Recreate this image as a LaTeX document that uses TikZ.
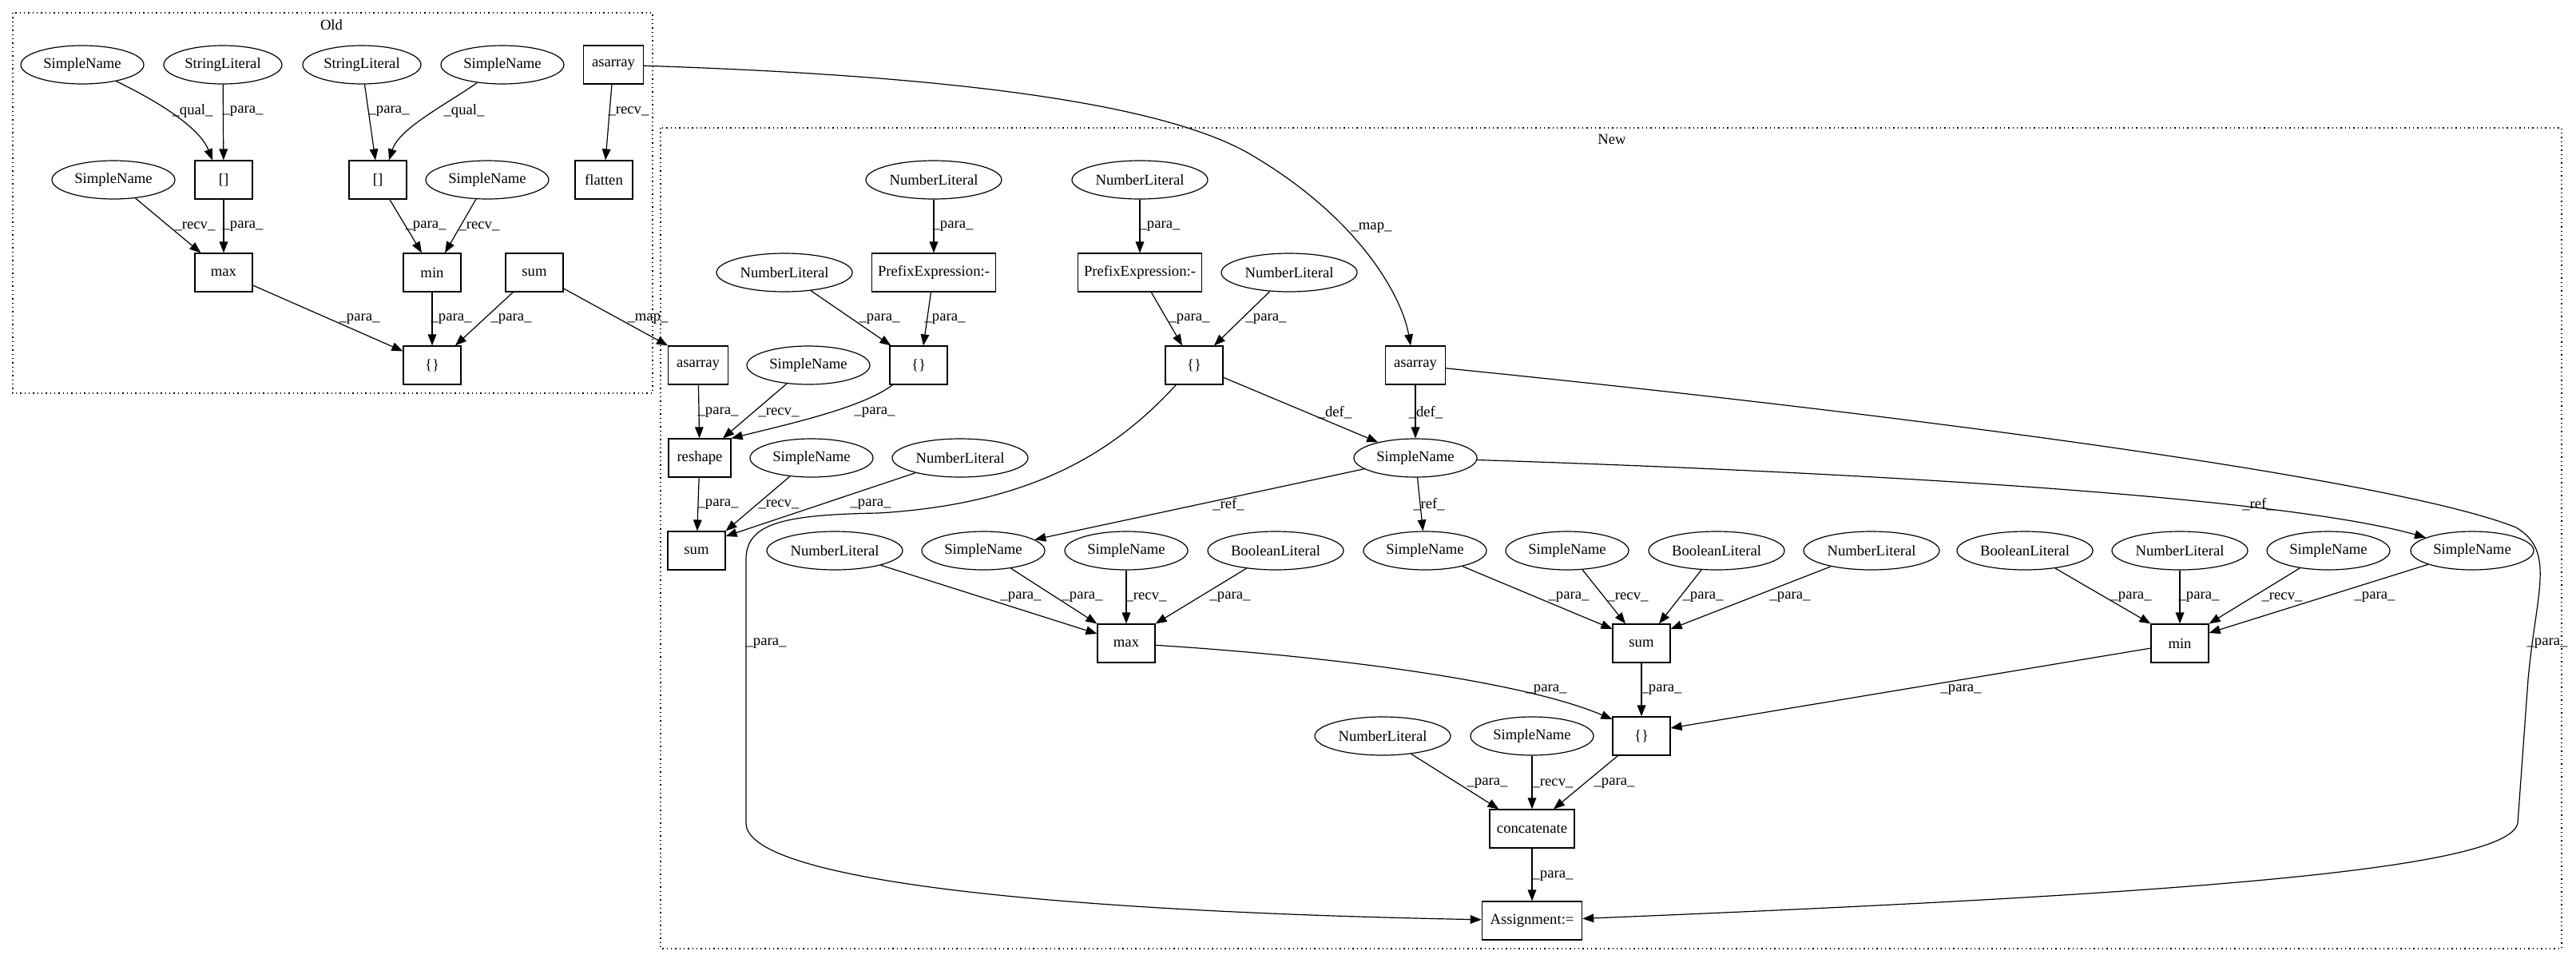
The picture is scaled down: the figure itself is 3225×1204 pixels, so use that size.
\documentclass[tikz,border=0pt]{standalone}
\usepackage{fontspec}
\setmainfont{Liberation Serif}
\usetikzlibrary{arrows.meta,shapes.geometric,calc}
\begin{document}
\begin{tikzpicture}[x=0.75pt,y=-0.75pt,
  font=\fontsize{14pt}{16pt}\selectfont,
  box/.style={draw,line width=0.9pt,rectangle,minimum width=54pt,minimum height=36pt,inner sep=0pt},
  ell/.style={draw,line width=0.9pt,ellipse,minimum height=36pt,inner sep=0pt},
  sn/.style={ell,minimum width=115.5pt},
  nl/.style={ell,minimum width=127.5pt},
  e/.style={draw,line width=0.9pt,-{Triangle[length=10.5pt,width=8pt]}},
  lb/.style={inner sep=0pt,anchor=center},
  clus/.style={draw,line width=0.9pt,dash pattern=on 1pt off 3pt}]
\useasboundingbox (0,0) rectangle (3225,1204);

% clusters
\draw[clus] (16,16) rectangle (817,492);
\node[lb] (oldlbl) at (415,31) {Old};
\draw[clus] (827,160) rectangle (3207,1187);
\node[lb] (newlbl) at (2018,174) {New};

% Old nodes
\node[sn] (osn1) at (103,81) {SimpleName};
\node[ell,minimum width=111pt] (osl1) at (279,81) {StringLiteral};
\node[ell,minimum width=111pt] (osl2) at (453,81) {StringLiteral};
\node[sn] (osn2) at (629,81) {SimpleName};
\node[box,minimum width=56pt] (oasarray) at (768,81) {asarray};
\node[sn] (osn3) at (142,225) {SimpleName};
\node[box] (obr1) at (280,225) {[]};
\node[box] (obr2) at (473,225) {[]};
\node[sn] (osn4) at (610,225) {SimpleName};
\node[box] (oflatten) at (756,225) {flatten};
\node[box] (omax) at (280,341) {max};
\node[box] (omin) at (541,341) {min};
\node[box] (osum) at (669,341) {sum};
\node[box] (obrace) at (541,457) {\{\}};

% New nodes
\node[nl] (nnl1) at (1169,225) {NumberLiteral};
\node[nl] (nnl2) at (1427,225) {NumberLiteral};
\node[box,minimum width=116pt] (npre1) at (1169,341) {PrefixExpression:-};
\node[box,minimum width=116pt] (npre2) at (1427,341) {PrefixExpression:-};
\node[nl] (nnl3) at (982,341) {NumberLiteral};
\node[nl] (nnl4) at (1614,341) {NumberLiteral};
\node[box,minimum width=56pt] (nasarray1) at (874,457) {asarray};
\node[sn] (nsn1) at (1012,457) {SimpleName};
\node[box] (nbr1) at (1150,457) {\{\}};
\node[box] (nbr2) at (1495,457) {\{\}};
\node[box,minimum width=56pt] (nasarray2) at (1772,457) {asarray};
\node[box,minimum width=58.5pt] (nreshape) at (876,573) {reshape};
\node[sn] (nsn2) at (1016,573) {SimpleName};
\node[nl] (nnl5) at (1202,573) {NumberLiteral};
\node[sn] (ndef) at (1772,573) {SimpleName};
\node[box] (nsum1) at (872,689) {sum};
\node[nl] (nnl6) at (1045,689) {NumberLiteral};
\node[sn] (nsn3) at (1231,689) {SimpleName};
\node[sn] (nsn4) at (1410,689) {SimpleName};
\node[nl] (nbl1) at (1597,689) {BooleanLiteral};
\node[sn] (nsn5) at (1784,689) {SimpleName};
\node[sn] (nsn6) at (1962,689) {SimpleName};
\node[nl] (nbl2) at (2149,689) {BooleanLiteral};
\node[nl] (nnl7) at (2343,689) {NumberLiteral};
\node[nl] (nbl3) at (2535,689) {BooleanLiteral};
\node[nl] (nnl8) at (2729,689) {NumberLiteral};
\node[sn] (nsn7) at (2915,689) {SimpleName};
\node[sn] (nsn8) at (3095,689) {SimpleName};
\node[box] (nmax) at (1410,805) {max};
\node[box] (nsum2) at (2055,805) {sum};
\node[box] (nmin) at (2729,805) {min};
\node[nl] (nnl9) at (1731,921) {NumberLiteral};
\node[sn] (nsn9) at (1918,921) {SimpleName};
\node[box] (nbr3) at (2055,921) {\{\}};
\node[box,minimum width=79.5pt] (nconcat) at (1918,1037) {concatenate};
\node[box,minimum width=94pt] (nassign) at (1918,1152) {Assignment:=};

% Old edges
\draw[e] (osn1) .. controls (200,128) and (250,160) .. ($(obr1.north)+(-14,0)$) node[lb] at (241,139) {\_qual\_};
\draw[e] (osl1) -- (obr1) node[lb] at (304,139) {\_para\_};
\draw[e] (osl2) -- ($(obr2.north)+(-3,0)$) node[lb] at (487,139) {\_para\_};
\draw[e] (osn2) .. controls (560,130) and (500,160) .. ($(obr2.north)+(14,0)$) node[lb] at (581,139) {\_qual\_};
\draw[e] (oasarray) -- (oflatten) node[lb] at (787,139) {\_recv\_};
\draw[e] (osn3) -- ($(omax.north west)+(8,0)$) node[lb] at (244,283) {\_recv\_};
\draw[e] (obr1) -- (omax) node[lb] at (304,283) {\_para\_};
\draw[e] (obr2) -- ($(omin.north)+(-13,0)$) node[lb] at (533,283) {\_para\_};
\draw[e] (osn4) -- ($(omin.north)+(16,0)$) node[lb] at (600,283) {\_recv\_};
\draw[e] (omax) -- ($(obrace.north west)+(0,7)$) node[lb] at (450,399) {\_para\_};
\draw[e] (omin) -- (obrace) node[lb] at (565,399) {\_para\_};
\draw[e] (osum) -- ($(obrace.north)+(29,0)$) node[lb] at (640,399) {\_para\_};
\draw[e] (osum) -- (nasarray1.north west) node[lb] at (811,399) {\_map\_};
\draw[e] (oasarray) .. controls (1200,95) and (1450,130) .. (1560,190) .. controls (1700,270) and (1755,370) .. ($(nasarray2.north)+(-6,0)$) node[lb] at (1717,285) {\_map\_};

% New edges
\draw[e] (nnl1) -- (npre1) node[lb] at (1193,283) {\_para\_};
\draw[e] (nnl2) -- (npre2) node[lb] at (1452,283) {\_para\_};
\draw[e] (nnl3) -- ($(nbr1.north west)+(2,0)$) node[lb] at (1101,399) {\_para\_};
\draw[e] (npre1) -- ($(nbr1.north)+(6,0)$) node[lb] at (1183,399) {\_para\_};
\draw[e] (npre2) -- ($(nbr2.north)+(-15,0)$) node[lb] at (1489,399) {\_para\_};
\draw[e] (nnl4) -- ($(nbr2.north)+(25,0)$) node[lb] at (1585,399) {\_para\_};
\draw[e] (nasarray1) -- (nreshape) node[lb] at (899,516) {\_para\_};
\draw[e] (nsn1) -- ($(nreshape.north)+(29,0)$) node[lb] at (975,516) {\_recv\_};
\draw[e] (nbr1) .. controls (1080,510) and (990,530) .. (nreshape.north east) node[lb] at (1095,516) {\_para\_};
\draw[e] (nbr2) -- (ndef) node[lb] at (1671,516) {\_def\_};
\draw[e] (nasarray2) -- (ndef) node[lb] at (1785,516) {\_def\_};
\draw[e] (nbr2) .. controls (1400,560) and (1300,630) .. (1100,642) .. controls (980,644) and (934,655) .. (934,700) -- (934,1030) .. controls (934,1100) and (1300,1140) .. (nassign) node[lb] at (959,805) {\_para\_};
\draw[e] (nasarray2) .. controls (2400,520) and (3000,600) .. (3150,660) .. controls (3200,690) and (3175,740) .. (3165,850) -- (3152,1030) .. controls (3140,1090) and (2700,1120) .. (nassign) node[lb] at (3189,805) {\_para\_};
\draw[e] (nreshape) -- (nsum1) node[lb] at (899,631) {\_para\_};
\draw[e] (nsn2) -- (nsum1.north east) node[lb] at (975,631) {\_recv\_};
\draw[e] (nnl5) -- ($(nsum1.east)+(0,-18)$) node[lb] at (1090,631) {\_para\_};
\draw[e] (ndef) -- (nsn3) node[lb] at (1538,631) {\_ref\_};
\draw[e] (ndef) -- (nsn5) node[lb] at (1789,631) {\_ref\_};
\draw[e] (ndef) .. controls (2300,590) and (2850,620) .. (nsn8) node[lb] at (2827,631) {\_ref\_};
\draw[e] (nnl6) -- ($(nmax.west)+(0,-12)$) node[lb] at (1278,747) {\_para\_};
\draw[e] (nsn3) -- (nmax.north west) node[lb] at (1355,747) {\_para\_};
\draw[e] (nsn4) -- (nmax) node[lb] at (1435,747) {\_recv\_};
\draw[e] (nbl1) -- (nmax.north east) node[lb] at (1540,747) {\_para\_};
\draw[e] (nsn5) -- ($(nsum2.west)+(0,-18)$) node[lb] at (1964,747) {\_para\_};
\draw[e] (nsn6) -- ($(nsum2.north)+(-20,0)$) node[lb] at (2038,747) {\_recv\_};
\draw[e] (nbl2) -- ($(nsum2.north)+(22,0)$) node[lb] at (2132,747) {\_para\_};
\draw[e] (nnl7) -- ($(nsum2.east)+(0,-18)$) node[lb] at (2241,747) {\_para\_};
\draw[e] (nbl3) -- (nmin.north west) node[lb] at (2668,747) {\_para\_};
\draw[e] (nnl8) -- (nmin) node[lb] at (2753,747) {\_para\_};
\draw[e] (nsn7) -- (nmin.north east) node[lb] at (2857,747) {\_recv\_};
\draw[e] (nsn8) -- ($(nmin.east)+(0,-13)$) node[lb] at (2973,747) {\_para\_};
\draw[e] (nmax) .. controls (1650,820) and (1900,850) .. ($(nbr3.west)+(0,-21)$) node[lb] at (1936,863) {\_para\_};
\draw[e] (nsum2) -- (nbr3) node[lb] at (2080,863) {\_para\_};
\draw[e] (nmin) -- ($(nbr3.east)+(0,-10)$) node[lb] at (2455,863) {\_para\_};
\draw[e] (nnl9) -- ($(nconcat.north west)+(12,0)$) node[lb] at (1862,980) {\_para\_};
\draw[e] (nsn9) -- (nconcat) node[lb] at (1944,980) {\_recv\_};
\draw[e] (nbr3) -- ($(nconcat.north)+(27,0)$) node[lb] at (2021,980) {\_para\_};
\draw[e] (nconcat) -- (nassign) node[lb] at (1944,1096) {\_para\_};
\end{tikzpicture}
\end{document}
